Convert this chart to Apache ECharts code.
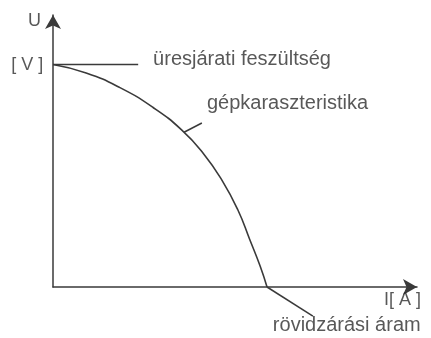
<!DOCTYPE html>
<html>
<head>
<meta charset="utf-8">
<script src="https://cdn.jsdelivr.net/npm/echarts@6/dist/echarts.min.js"></script>
<style>
  html, body { margin: 0; padding: 0; background: #fff; }
  #chart { width: 431px; height: 338px; }
</style>
</head>
<body>
<div id="chart"></div>
<script>
  // generator characteristic (I, U), 0..100 scale
  const curveI = [0, 9.1, 18.4, 27.5, 35.4, 41.2, 46.4, 50.8, 54.1, 56.9, 58.8];
  const curveU = [81.8, 78.7, 73.3, 66.0, 57.7, 49.3, 39.3, 28.3, 17.3, 7.7, 0];

  // open-circuit voltage marker line
  const noLoadLine = [[0, 81.8], [23.4, 81.8]];
  // leader lines to the labels
  const curveLeader = [[36.0, 56.9], [40.9, 60.3]];
  const shortLeader = [[58.8, 0], [71.4, -10.7]];

  // texts: [I, U, text, align, size]
  const texts = [
    [-3.3, 97.8, 'U', 'right', 18],
    [-2.7, 81.6, '[ V ]', 'right', 18],
    [27.5, 83.5, 'üresjárati feszültség', 'left', 20],
    [42.3, 67.3, 'gépkaraszteristika', 'left', 20],
    [101.1, -4.8, 'I[ A ]', 'right', 18],
    [60.4, -14.3, 'rövidzárási áram', 'left', 20]
  ];

  const lineColor = '#3a3a3a';
  const textColor = '#2e2e2e';

  function leader(data) {
    return {
      type: 'line',
      data: data,
      symbol: 'none',
      clip: false,
      silent: true,
      lineStyle: { color: lineColor, width: 1.5 }
    };
  }

  let chart = echarts.init(document.getElementById('chart')),
    option = {
      animation: false,
      backgroundColor: '#fff',
      grid: { left: 53, right: 14, top: 15, bottom: 51 },
      xAxis: {
        type: 'value',
        min: 0,
        max: 100,
        axisLine: {
          show: true,
          symbol: ['none', 'arrow'],
          symbolSize: [12, 14],
          lineStyle: { color: lineColor, width: 1.5 }
        },
        axisTick: { show: false },
        axisLabel: { show: false },
        splitLine: { show: false }
      },
      yAxis: {
        type: 'value',
        min: 0,
        max: 100,
        axisLine: {
          show: true,
          symbol: ['none', 'arrow'],
          symbolSize: [12, 14],
          lineStyle: { color: lineColor, width: 1.5 }
        },
        axisTick: { show: false },
        axisLabel: { show: false },
        splitLine: { show: false }
      },
      series: [
        {
          type: 'line',
          data: curveI.map(function (v, i) { return [v, curveU[i]]; }),
          smooth: 0.5,
          symbol: 'none',
          clip: false,
          lineStyle: { color: lineColor, width: 1.6 }
        },
        leader(noLoadLine),
        leader(curveLeader),
        leader(shortLeader),
        {
          type: 'scatter',
          symbolSize: 0,
          clip: false,
          silent: true,
          data: texts.map(function (t) {
            return {
              value: [t[0], t[1]],
              label: {
                show: true,
                formatter: t[2],
                position: 'inside',
                align: t[3],
                verticalAlign: 'middle',
                color: textColor,
                fontSize: t[4],
                fontFamily: 'Liberation Sans, Arial, sans-serif'
              }
            };
          })
        }
      ]
    };
  chart.setOption(option);
</script>
</body>
</html>
